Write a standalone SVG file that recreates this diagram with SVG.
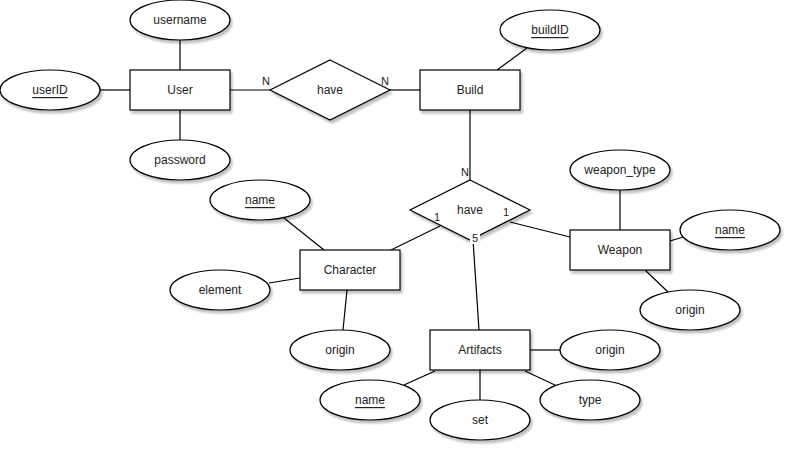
<svg xmlns="http://www.w3.org/2000/svg" width="792" height="452" viewBox="0 0 792 452">
  <defs>
    <filter id="shadow" x="-20%" y="-20%" width="150%" height="160%">
      <feGaussianBlur in="SourceAlpha" stdDeviation="1.2"/>
      <feOffset dx="2" dy="3" result="blur"/>
      <feComponentTransfer><feFuncA type="linear" slope="0.25"/></feComponentTransfer>
      <feMerge><feMergeNode/><feMergeNode in="SourceGraphic"/></feMerge>
    </filter>
  </defs>
  <style>
    .shape { fill: #ffffff; stroke: #000000; stroke-width: 1.2; filter: url(#shadow); }
    .edge { stroke: #000000; stroke-width: 1.2; fill: none; }
    text { font-family: "Liberation Sans", Arial, sans-serif; font-size: 12px; fill: #222222; text-anchor: middle; dominant-baseline: central; }
    .key { text-decoration: underline; }
    .card { font-size: 11px; }
  </style>
  <rect width="792" height="452" fill="#ffffff"/>

  <!-- connectors -->
  <g id="connectors">
    <line class="edge" x1="180" y1="40" x2="180" y2="70"/>
    <line class="edge" x1="100" y1="90" x2="130" y2="90"/>
    <line class="edge" x1="180" y1="110" x2="180" y2="140"/>
    <line class="edge" x1="230" y1="90" x2="270" y2="90"/>
    <line class="edge" x1="390" y1="90" x2="420" y2="90"/>
    <line class="edge" x1="497" y1="70" x2="527" y2="48"/>
    <line class="edge" x1="470" y1="110" x2="470" y2="180"/>
    <line class="edge" x1="391" y1="250" x2="440" y2="226"/>
    <line class="edge" x1="510" y1="222" x2="570" y2="237"/>
    <line class="edge" x1="473" y1="240" x2="479" y2="330"/>
    <line class="edge" x1="284" y1="218" x2="324" y2="250"/>
    <line class="edge" x1="269" y1="283" x2="300" y2="278"/>
    <line class="edge" x1="347" y1="290" x2="343" y2="330"/>
    <line class="edge" x1="620" y1="190" x2="620" y2="230"/>
    <line class="edge" x1="670" y1="241" x2="683" y2="237"/>
    <line class="edge" x1="645" y1="270" x2="668" y2="292"/>
    <line class="edge" x1="530" y1="350" x2="560" y2="350"/>
    <line class="edge" x1="435" y1="371" x2="404" y2="385"/>
    <line class="edge" x1="480" y1="370" x2="480" y2="400"/>
    <line class="edge" x1="525" y1="371" x2="557" y2="386"/>
  </g>

  <!-- User entity and attributes -->
  <g id="user">
    <rect class="shape" x="130" y="70" width="100" height="40"/>
    <text x="180" y="90">User</text>
  </g>
  <g id="user-username">
    <ellipse class="shape" cx="180" cy="20" rx="50" ry="20"/>
    <text x="180" y="20">username</text>
  </g>
  <g id="user-userID">
    <ellipse class="shape" cx="50" cy="90" rx="50" ry="20"/>
    <text class="key" x="50" y="90">userID</text>
  </g>
  <g id="user-password">
    <ellipse class="shape" cx="180" cy="160" rx="50" ry="20"/>
    <text x="180" y="160">password</text>
  </g>

  <!-- User-Build relationship -->
  <g id="rel-user-build">
    <polygon class="shape" points="330,60 390,90 330,120 270,90"/>
    <text x="330" y="90">have</text>
  </g>

  <!-- Build entity -->
  <g id="build">
    <rect class="shape" x="420" y="70" width="100" height="40"/>
    <text x="470" y="90">Build</text>
  </g>
  <g id="build-buildID">
    <ellipse class="shape" cx="550" cy="30" rx="50" ry="20"/>
    <text class="key" x="550" y="30">buildID</text>
  </g>

  <!-- Build composition relationship -->
  <g id="rel-build-parts">
    <polygon class="shape" points="470,180 530,210 470,240 410,210"/>
    <text x="470" y="210">have</text>
  </g>

  <!-- Character entity -->
  <g id="character">
    <rect class="shape" x="300" y="250" width="100" height="40"/>
    <text x="350" y="270">Character</text>
  </g>
  <g id="character-name">
    <ellipse class="shape" cx="260" cy="200" rx="50" ry="20"/>
    <text class="key" x="260" y="200">name</text>
  </g>
  <g id="character-element">
    <ellipse class="shape" cx="220" cy="290" rx="50" ry="20"/>
    <text x="220" y="290">element</text>
  </g>
  <g id="character-origin">
    <ellipse class="shape" cx="340" cy="350" rx="50" ry="20"/>
    <text x="340" y="350">origin</text>
  </g>

  <!-- Weapon entity -->
  <g id="weapon">
    <rect class="shape" x="570" y="230" width="100" height="40"/>
    <text x="620" y="250">Weapon</text>
  </g>
  <g id="weapon-type">
    <ellipse class="shape" cx="620" cy="170" rx="50" ry="20"/>
    <text x="620" y="170">weapon_type</text>
  </g>
  <g id="weapon-name">
    <ellipse class="shape" cx="730" cy="230" rx="50" ry="20"/>
    <text class="key" x="730" y="230">name</text>
  </g>
  <g id="weapon-origin">
    <ellipse class="shape" cx="690" cy="310" rx="50" ry="20"/>
    <text x="690" y="310">origin</text>
  </g>

  <!-- Artifacts entity -->
  <g id="artifacts">
    <rect class="shape" x="430" y="330" width="100" height="40"/>
    <text x="480" y="350">Artifacts</text>
  </g>
  <g id="artifacts-origin">
    <ellipse class="shape" cx="610" cy="350" rx="50" ry="20"/>
    <text x="610" y="350">origin</text>
  </g>
  <g id="artifacts-name">
    <ellipse class="shape" cx="370" cy="400" rx="50" ry="20"/>
    <text class="key" x="370" y="400">name</text>
  </g>
  <g id="artifacts-set">
    <ellipse class="shape" cx="480" cy="420" rx="50" ry="20"/>
    <text x="480" y="420">set</text>
  </g>
  <g id="artifacts-type">
    <ellipse class="shape" cx="590" cy="400" rx="50" ry="20"/>
    <text x="590" y="400">type</text>
  </g>

  <!-- cardinality labels, drawn on top of the shapes -->
  <g id="cardinalities">
    <text class="card" x="266" y="81">N</text>
    <text class="card" x="385" y="81">N</text>
    <text class="card" x="465" y="172">N</text>
    <text class="card" x="437" y="217">1</text>
    <text class="card" x="506" y="212">1</text>
    <rect x="470" y="232" width="10" height="12" fill="#ffffff"/>
    <text class="card" x="475" y="238">5</text>
  </g>
</svg>
